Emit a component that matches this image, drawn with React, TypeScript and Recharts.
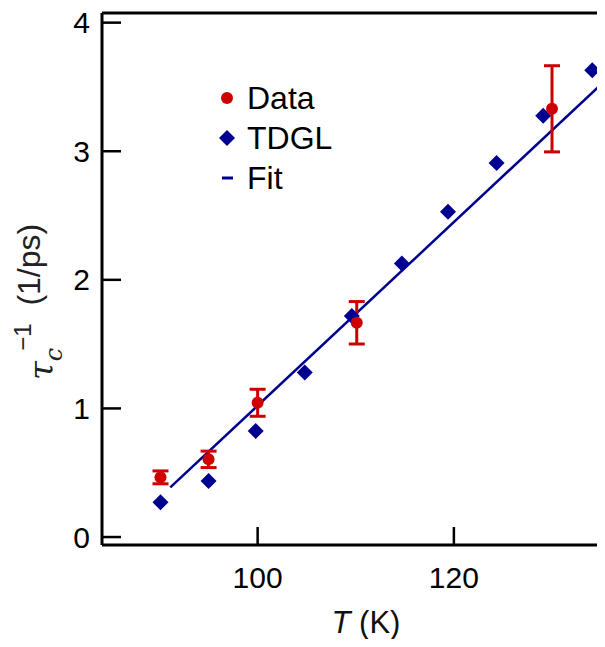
import { ComposedChart, XAxis, YAxis, Scatter, Line, ErrorBar, Legend, ReferenceLine } from 'recharts';

// measured relaxation rate with error bars
const dataT = [90.1, 95, 100, 110.1, 130];
const dataRate = [0.464, 0.604, 1.044, 1.666, 3.33];
const dataErr = [0.05, 0.064, 0.105, 0.165, 0.335];

// TDGL simulation
const tdglT = [90.1, 95.0, 99.8, 104.8, 109.6, 114.7, 119.4, 124.35, 129.1, 134.1];
const tdglRate = [0.27, 0.435, 0.824, 1.28, 1.718, 2.128, 2.53, 2.908, 3.276, 3.63];

// linear fit end points
const fitT = [91.1, 135.0];
const fitRate = [0.386, 3.52];

const xTicks = [100, 120];
const yTicks = [0, 1, 2, 3, 4];
const legendNames = ['Data', 'TDGL', 'Fit'];

const X_DOMAIN: [number, number] = [84.14, 135.4];
const Y_DOMAIN: [number, number] = [-0.062, 4.075];

const RED = '#cc0000';
const BLUE = '#000090';
const FONT = 'Liberation Sans, Arial, sans-serif';

const dataPts = dataT.map((x, i) => ({ x, y: dataRate[i], err: dataErr[i] }));
const tdglPts = tdglT.map((x, i) => ({ x, y: tdglRate[i] }));
const fitPts = fitT.map((x, i) => ({ x, y: fitRate[i] }));

const Dot = (p: any) => <circle cx={p.cx} cy={p.cy} r={6} fill={RED} />;
const Diamond = (p: any) => (
  <polygon
    points={`${p.cx},${p.cy - 8} ${p.cx + 8},${p.cy} ${p.cx},${p.cy + 8} ${p.cx - 8},${p.cy}`}
    fill={BLUE}
  />
);

const YLabel = (props: any) => {
  const vb = props.viewBox;
  return (
    <text
      transform={`translate(${vb.x + 40},${vb.y + 367}) rotate(-90)`}
      fill="#222"
      fontFamily={FONT}
    >
      <tspan fontFamily="DejaVu Serif" fontStyle="italic" fontSize={34} dy={13}>τ</tspan>
      <tspan fontFamily="DejaVu Serif" fontStyle="italic" fontSize={24} dy={9}>c</tspan>
      <tspan fontSize={24} dy={-31} dx={-3}>−1</tspan>
      <tspan fontSize={32} dy={9} xmlSpace="preserve">{'  (1/ps)'}</tspan>
    </text>
  );
};

const XLabel = (props: any) => {
  const vb = props.viewBox;
  return (
    <text x={vb.x + 264} y={vb.y + 88} textAnchor="middle" fill="#111" fontFamily={FONT} fontSize={31}>
      <tspan fontStyle="italic">T</tspan>
      <tspan> (K)</tspan>
    </text>
  );
};

const renderLegend = () => (
  <div style={{ fontFamily: FONT, fontSize: 32, color: '#000' }}>
    {legendNames.map((name, i) => (
      <div key={name} style={{ display: 'flex', alignItems: 'center', height: 40 }}>
        <svg width={24} height={24} style={{ marginRight: 8 }}>
          {i === 0 && <circle cx={12} cy={12} r={6} fill={RED} />}
          {i === 1 && <polygon points="12,4 20,12 12,20 4,12" fill={BLUE} />}
          {i === 2 && <line x1={7} y1={12} x2={18} y2={12} stroke={BLUE} strokeWidth={3} />}
        </svg>
        <span>{name}</span>
      </div>
    ))}
  </div>
);

export default function App() {
  return (
    <div style={{ margin: -8, width: 605, height: 647, overflow: 'hidden' }}>
      <ComposedChart width={605} height={647} margin={{ top: 13, right: 0, bottom: 0, left: 0 }}>
        <XAxis
          dataKey="x"
          type="number"
          domain={X_DOMAIN}
          allowDataOverflow
          ticks={xTicks}
          interval={0}
          height={102}
          stroke="#000"
          axisLine={{ strokeWidth: 3 }}
          tickLine={{ strokeWidth: 2.5 }}
          tickSize={-18}
          tickMargin={40}
          tick={{ fontSize: 30, fill: '#000', fontFamily: FONT }}
          label={<XLabel />}
        />
        <YAxis
          dataKey="y"
          type="number"
          domain={Y_DOMAIN}
          allowDataOverflow
          ticks={yTicks}
          interval={0}
          width={102}
          stroke="#000"
          axisLine={{ strokeWidth: 3 }}
          tickLine={{ strokeWidth: 2.5 }}
          tickSize={-19}
          tickMargin={31}
          tick={{ fontSize: 30, fill: '#000', fontFamily: FONT }}
          label={<YLabel />}
        />
        <ReferenceLine y={Y_DOMAIN[1]} stroke="#000" strokeWidth={3} ifOverflow="visible" />
        <Legend
          layout="vertical"
          align="center"
          verticalAlign="middle"
          content={renderLegend}
          wrapperStyle={{ left: 215, top: 78, width: 'auto' }}
        />
        <Scatter name="TDGL" data={tdglPts} dataKey="y" shape={Diamond} isAnimationActive={false} />
        <Line
          name="Fit"
          data={fitPts}
          dataKey="y"
          stroke={BLUE}
          strokeWidth={2.5}
          dot={false}
          activeDot={false}
          isAnimationActive={false}
        />
        <Scatter name="Data" data={dataPts} dataKey="y" shape={Dot} isAnimationActive={false}>
          <ErrorBar dataKey="err" direction="y" width={8} stroke={RED} strokeWidth={3} />
        </Scatter>
      </ComposedChart>
    </div>
  );
}
